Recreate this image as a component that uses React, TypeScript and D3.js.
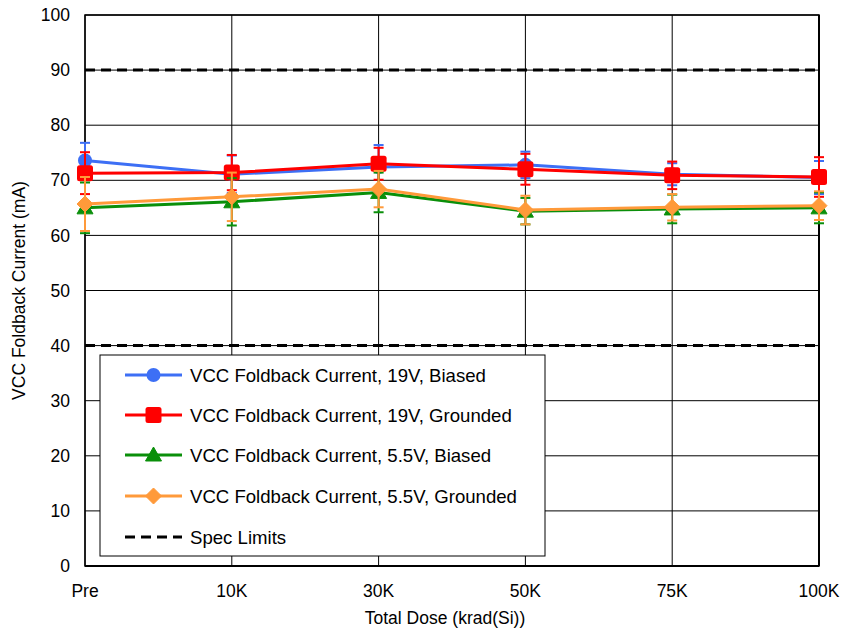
import React from "react";
import * as d3 from "d3";

const categories = ["Pre", "10K", "30K", "50K", "75K", "100K"];
const yTicks = [0, 10, 20, 30, 40, 50, 60, 70, 80, 90, 100];
const specLimits = [90, 40];

const blueVals = [73.6, 71.1, 72.4, 72.8, 71.1, 70.5];
const blueErr = [3.2, 3.4, 4.0, 2.4, 2.0, 3.0];
const redVals = [71.3, 71.4, 73.0, 72.0, 70.9, 70.6];
const redErr = [3.8, 3.2, 2.9, 2.8, 2.5, 3.6];
const greenVals = [65.0, 66.1, 67.8, 64.4, 64.8, 65.0];
const greenErr = [4.6, 4.3, 3.6, 2.4, 2.6, 2.8];
const orangeVals = [65.7, 67.0, 68.4, 64.6, 65.1, 65.4];
const orangeErr = [4.9, 4.4, 3.3, 2.6, 2.4, 2.6];

const seriesNames = [
  "VCC Foldback Current, 19V, Biased",
  "VCC Foldback Current, 19V, Grounded",
  "VCC Foldback Current, 5.5V, Biased",
  "VCC Foldback Current, 5.5V, Grounded",
];

type Shape = "circle" | "square" | "triangle" | "diamond";
const series: { name: string; vals: number[]; err: number[]; color: string; shape: Shape }[] = [
  { name: seriesNames[0], vals: blueVals, err: blueErr, color: "#3d6ff5", shape: "circle" },
  { name: seriesNames[1], vals: redVals, err: redErr, color: "#ff0000", shape: "square" },
  { name: seriesNames[2], vals: greenVals, err: greenErr, color: "#0a8f0a", shape: "triangle" },
  { name: seriesNames[3], vals: orangeVals, err: orangeErr, color: "#ff9a3a", shape: "diamond" },
];

const L = 85, R = 819, T = 15, B = 566;
const FONT = "Liberation Sans, Arial, sans-serif";
const FS = 17.5;
const LFS = 18.6;

function Marker({ shape, x, y, color }: { shape: Shape; x: number; y: number; color: string }) {
  if (shape === "circle") return <circle cx={x} cy={y} r={7} fill={color} />;
  if (shape === "square")
    return <rect x={x - 8} y={y - 8} width={16} height={16} rx={2.5} fill={color} />;
  if (shape === "triangle")
    return <path d={`M${x},${y - 8}L${x + 8},${y + 6}L${x - 8},${y + 6}Z`} fill={color} strokeLinejoin="round" stroke={color} strokeWidth={1} />;
  return <path d={`M${x},${y - 8}L${x + 8},${y}L${x},${y + 8}L${x - 8},${y}Z`} fill={color} stroke={color} strokeWidth={1} strokeLinejoin="round" />;
}

export default function App() {
  const x = d3.scalePoint<string>().domain(categories).range([L, R]);
  const y = d3.scaleLinear().domain([0, 100]).range([B, T]);
  const line = d3
    .line<number>()
    .x((_, i) => x(categories[i]) as number)
    .y((d) => y(d));

  const legend = { x: 100, y: 355, w: 445, h: 201 };
  const legendRows = [375, 415, 455, 496, 537];

  return (
    <svg width={843} height={632} style={{ position: "absolute", left: 0, top: 0 }} fontFamily={FONT}>
      <rect width={843} height={632} fill="#fff" />
      {/* grid */}
      {yTicks.map((t) => (
        <line key={"h" + t} x1={L} x2={R} y1={y(t)} y2={y(t)} stroke="#000" strokeWidth={1} />
      ))}
      {categories.map((c) => (
        <line key={"v" + c} x1={x(c)} x2={x(c)} y1={T} y2={B} stroke="#000" strokeWidth={1} />
      ))}
      {/* spec limits */}
      {specLimits.map((s) => (
        <line key={"s" + s} x1={L} x2={R} y1={y(s)} y2={y(s)} stroke="#000" strokeWidth={3} strokeDasharray="10,6" />
      ))}
      {/* frame */}
      <rect x={L} y={T} width={R - L} height={B - T} fill="none" stroke="#000" strokeWidth={1.5} />
      <line x1={L} x2={R} y1={B} y2={B} stroke="#000" strokeWidth={2} />
      <line x1={R} x2={R} y1={T} y2={B} stroke="#000" strokeWidth={2} />
      {/* series */}
      {series.map((s) => (
        <g key={s.name}>
          {s.vals.map((v, i) => {
            const cx = x(categories[i]) as number;
            const y1 = y(v + s.err[i]);
            const y2 = y(v - s.err[i]);
            return (
              <g key={i} stroke={s.color} strokeWidth={2}>
                <line x1={cx} x2={cx} y1={y1} y2={y2} />
                <line x1={cx - 5} x2={cx + 5} y1={y1} y2={y1} />
                <line x1={cx - 5} x2={cx + 5} y1={y2} y2={y2} />
              </g>
            );
          })}
          <path d={line(s.vals) || ""} fill="none" stroke={s.color} strokeWidth={3} />
          {s.vals.map((v, i) => (
            <Marker key={i} shape={s.shape} x={x(categories[i]) as number} y={y(v)} color={s.color} />
          ))}
        </g>
      ))}
      {/* y ticks */}
      {yTicks.map((t) => (
        <text key={"yt" + t} x={70} y={y(t)} dy="0.35em" textAnchor="end" fontSize={FS} fill="#000">
          {t}
        </text>
      ))}
      {/* x ticks */}
      {categories.map((c) => (
        <text key={"xt" + c} x={x(c)} y={597} textAnchor="middle" fontSize={FS} fill="#000">
          {c}
        </text>
      ))}
      <text x={445} y={624} textAnchor="middle" fontSize={FS} fill="#000">
        Total Dose (krad(Si))
      </text>
      <text transform={`translate(25,${(T + B) / 2}) rotate(-90)`} textAnchor="middle" fontSize={FS} fill="#000">
        VCC Foldback Current (mA)
      </text>
      {/* legend */}
      <rect x={legend.x} y={legend.y} width={legend.w} height={legend.h} fill="#fff" stroke="#000" strokeWidth={1} />
      {series.map((s, i) => (
        <g key={"lg" + i}>
          <line x1={125} x2={182} y1={legendRows[i]} y2={legendRows[i]} stroke={s.color} strokeWidth={3} />
          <Marker shape={s.shape} x={153.5} y={legendRows[i]} color={s.color} />
          <text x={190} y={legendRows[i]} dy="0.35em" fontSize={LFS} fill="#000">
            {s.name}
          </text>
        </g>
      ))}
      <line x1={125} x2={182} y1={legendRows[4]} y2={legendRows[4]} stroke="#000" strokeWidth={3} strokeDasharray="10,6" />
      <text x={190} y={legendRows[4]} dy="0.35em" fontSize={LFS} fill="#000">
        Spec Limits
      </text>
    </svg>
  );
}
